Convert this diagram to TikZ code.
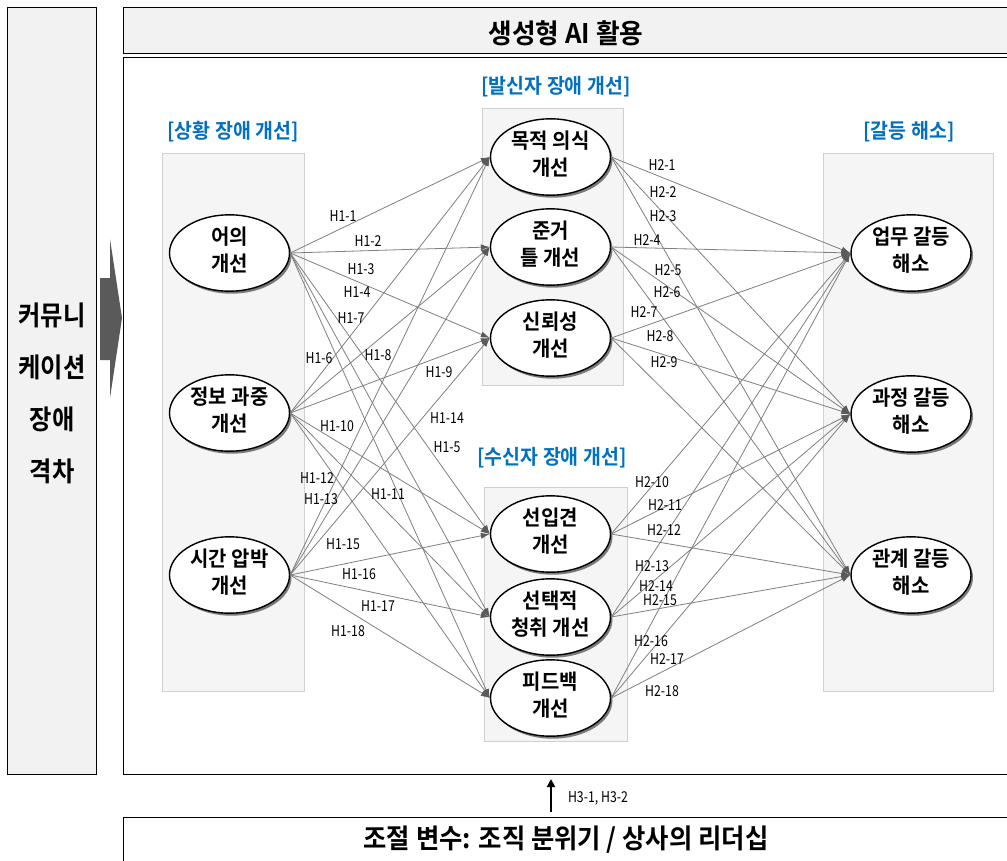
\documentclass[tikz,border=0pt]{standalone}
\usepackage{fontspec}
\usepackage{graphicx}
\setmainfont{Noto Sans CJK KR}[BoldFont={Noto Sans CJK KR Bold}]
\usetikzlibrary{shapes.geometric,shadows,arrows.meta}
\definecolor{titleblue}{HTML}{0070C0}
\definecolor{panelgray}{HTML}{F2F2F2}
\definecolor{groupgray}{HTML}{F5F5F5}
\definecolor{groupline}{HTML}{D0D0D0}
\definecolor{pathgray}{HTML}{7F7F7F}
\definecolor{headgray}{HTML}{5A5A5A}
% horizontally condensed text, one line or two
\newcommand\nrw[2][0.86]{\scalebox{#1}[1]{#2}}
\newcommand\twoln[2]{\scalebox{0.95}[1]{\begin{tabular}{@{}c@{}}#1\\#2\end{tabular}}}
\begin{document}
\begin{tikzpicture}[x=1pt,y=-1pt,
  frame/.style={draw=black,line width=1pt},
  group/.style={draw=groupline,fill=groupgray,line width=0.8pt},
  grouptitle/.style={text=titleblue,inner sep=0pt,font=\bfseries\fontsize{20.5}{23}\selectfont},
  var/.style={ellipse,draw=black,line width=1.4pt,fill=white,minimum width=120pt,
    minimum height=73pt,inner sep=0pt,font=\bfseries\fontsize{21}{27}\selectfont,
    drop shadow={shadow xshift=2pt,shadow yshift=-2.5pt,opacity=0.5,fill=black}},
  hpath/.style={draw=pathgray,line width=0.8pt,-{Latex[length=9pt,width=6pt,color=headgray]}},
  hyp/.style={inner sep=0pt,font=\fontsize{15}{16}\selectfont},
  heading/.style={inner sep=0pt,font=\bfseries\fontsize{27}{30}\selectfont}
]
\useasboundingbox (0,0) rectangle (1007,860);
\fill[white] (0,0) rectangle (1007,860);

% outer frames
\draw[frame,fill=panelgray] (7,7) rectangle (96,774);
\draw[frame,fill=panelgray] (123,7) rectangle (1012,53);
\draw[frame] (123,57) rectangle (1012,774);
\draw[frame] (123,817) rectangle (1012,866);

% block arrow from the gap column into the model
\fill[headgray] (100,278) -- (110,278) -- (110,239) -- (122,318) -- (110,398)
  -- (110,360) -- (100,360) -- cycle;

% headings
\node[heading] (gap1) at (52,315) {\nrw[0.9]{커뮤니}};
\node[heading] (gap2) at (52,367) {\nrw[0.9]{케이션}};
\node[heading] (gap3) at (52,419) {\nrw[0.9]{장애}};
\node[heading] (gap4) at (52,471) {\nrw[0.9]{격차}};
\node[heading] (ai) at (566,33) {\nrw[0.95]{생성형 AI 활용}};
\node[heading] (mod) at (566,840) {\nrw[0.94]{조절 변수: 조직 분위기 / 상사의 리더십}};

% group panels
\draw[group] (162,153) rectangle (304,691);
\draw[group] (482,108) rectangle (623,385);
\draw[group] (484,487) rectangle (627,741);
\draw[group] (823,153) rectangle (993,691);
\node[grouptitle] (gL) at (233,132) {\nrw[0.95]{[상황 장애 개선]}};
\node[grouptitle] (gS) at (556,87) {\nrw[0.95]{[발신자 장애 개선]}};
\node[grouptitle] (gR) at (552,458) {\nrw[0.95]{[수신자 장애 개선]}};
\node[grouptitle] (gC) at (909,132) {\nrw[0.95]{[갈등 해소]}};

% variables
\node[var] (L1) at (229.5,253) {\twoln{어의}{개선}};
\node[var] (L2) at (229.5,413) {\twoln{정보 과중}{개선}};
\node[var] (L3) at (229.5,575) {\twoln{시간 압박}{개선}};
\node[var] (M1) at (550.5,157) {\twoln{목적 의식}{개선}};
\node[var] (M2) at (550.5,247) {\twoln{준거}{틀 개선}};
\node[var] (M3) at (550.5,338) {\twoln{신뢰성}{개선}};
\node[var] (M4) at (550.5,534) {\twoln{선입견}{개선}};
\node[var] (M5) at (550.5,617) {\twoln{선택적}{청취 개선}};
\node[var] (M6) at (550.5,698) {\twoln{피드백}{개선}};
\node[var] (R1) at (911,253) {\twoln{업무 갈등}{해소}};
\node[var] (R2) at (911,414) {\twoln{과정 갈등}{해소}};
\node[var] (R3) at (911,575) {\twoln{관계 갈등}{해소}};

% hypothesised paths
\foreach \s in {L1,L2,L3}
  \foreach \t in {M1,M2,M3,M4,M5,M6}
    \draw[hpath] (\s.east) -- (\t.west);
\foreach \s in {M1,M2,M3,M4,M5,M6}
  \foreach \t in {R1,R2,R3}
    \draw[hpath] (\s.east) -- (\t.west);

% path labels
\foreach \n/\px/\py in {1/343/216,2/368/241,3/361/269,4/357/292,5/447/447,6/319/358,
    7/351/318,8/378/355,9/439/372,10/337/426,11/388/494,12/317/478,
    13/321/499,14/447/418,15/343/544,16/359/574,17/378/606,18/348/631}
  \node[hyp] (ha\n) at (\px,\py) {\nrw[0.82]{H1-\n}};
\foreach \n/\px/\py in {1/662/165,2/663/192,3/663/216,4/647/240,5/668/270,6/667/292,
    7/644/312,8/660/336,9/664/362,10/652/482,11/665/505,12/664/530,
    13/652/566,14/656/586,15/660/600,16/651/641,17/667/659,18/662/691}
  \node[hyp] (hb\n) at (\px,\py) {\nrw[0.82]{H2-\n}};

% moderation
\coordinate (modtop) at (551,812);
\coordinate (modtip) at (551,779);
\draw[line width=2.2pt,-{Triangle[length=8pt,width=8pt]}] (modtop) -- (modtip);
\node[hyp] (h3) at (598,798) {\nrw[0.82]{H3-1, H3-2}};
\end{tikzpicture}
\end{document}
